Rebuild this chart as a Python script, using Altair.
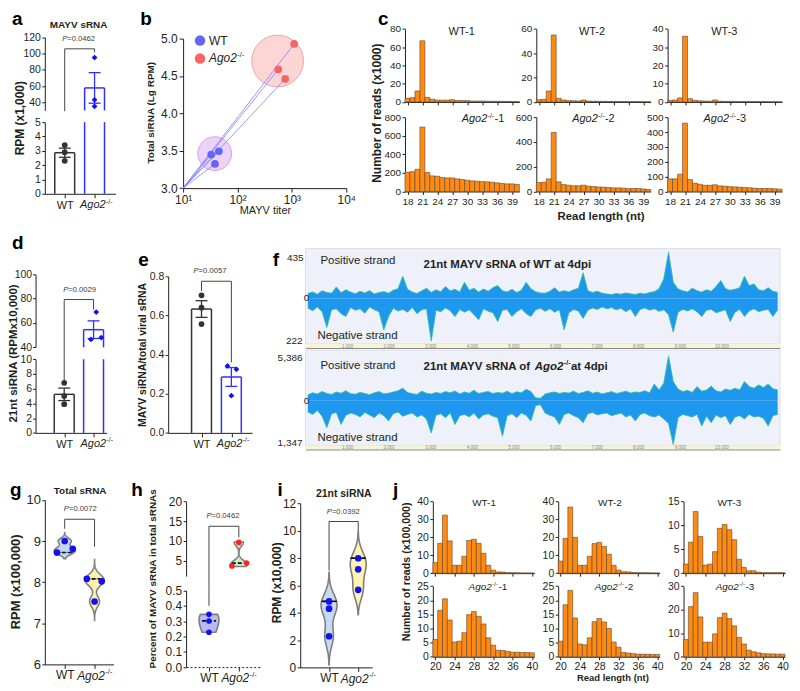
import altair as alt
import pandas as pd

# ------------------------------------------------------------------ data
GENO = ["WT", "Ago2-/-"]

# a  MAYV sRNA (RPM x1,000)
A_WT = [3.4, 2.9, 2.3]
A_KO = [95.0, 43.0, 35.0]
A_WT_DX = [0.0, 0.0, 0.0]
A_KO_DX = [0.0, 0.0, 0.0]

# b  titer vs total siRNA
B_WT_TITER = [32.9, 45.5, 38.5]
B_WT_LG = [3.448, 3.493, 3.324]
B_KO_TITER = [561.0, 753.0, 1101.0]
B_KO_LG = [4.587, 4.461, 4.928]
B_ORIGIN = [10.0, 3.0]
B_RING_TITER = [38.1, 546.0]
B_RING_LG = [3.461, 4.70]

# c  read length distributions (x1000)
C_LEN = list(range(18, 41))
C_WT1 = [4, 4.7, 12, 67, 5, 3, 2, 2, 2, 2.5, 1.5, 1.5, 1.5, 1, 1, 1, 0.8, 0.8, 0.7, 0.7, 0.6, 0.5, 0.4]
C_WT2 = [1.8, 2.2, 9, 55, 3, 1.6, 1.1, 1, 0.8, 1.6, 0.7, 0.6, 0.5, 0.5, 0.4, 0.4, 0.4, 0.3, 0.3, 0.3, 0.3, 0.2, 0.2]
C_WT3 = [0.9, 1.1, 2.2, 36, 1.8, 0.9, 0.6, 0.5, 0.4, 1.1, 0.4, 0.3, 0.3, 0.3, 0.2, 0.2, 0.2, 0.2, 0.2, 0.2, 0.1, 0.1, 0.1]
C_KO1 = [207, 214, 239, 693, 204, 168, 164, 150, 146, 146, 136, 129, 121, 114, 111, 107, 104, 100, 93, 86, 82, 82, 75]
C_KO2 = [72, 75, 102, 477, 78, 56, 51, 46, 46, 51, 43, 40, 37, 35, 32, 29, 29, 27, 24, 24, 24, 21, 16]
C_KO3 = [85, 85, 116, 460, 80, 56, 49, 42, 42, 45, 38, 36, 33, 31, 29, 27, 25, 22, 20, 20, 20, 18, 16]

# d  21nt siRNA (RPM x10,000)
D_WT = [6.8, 5.0, 3.9]
D_KO = [69.0, 46.5, 48.0]
D_WT_DX = [0.0, 0.0, 0.0]
D_KO_DX = [0.09, -0.09, 0.26]

# e  MAYV siRNA / total viral sRNA
E_WT = [0.703, 0.64, 0.556]
E_KO = [0.342, 0.325, 0.19]
E_WT_DX = [0.0, 0.0, 0.0]
E_KO_DX = [-0.13, 0.17, 0.0]

# f  coverage of 21nt reads along the MAYV genome (100 bins)
F_GENOME = 11411
F_NBIN = 100
F_WT_POS = [45, 60, 38, 70, 55, 48, 107, 52, 80, 58,
            42, 65, 50, 72, 40, 55, 62, 48, 75, 90,
            208, 85, 60, 45, 70, 95, 55, 80, 62, 110,
            70, 85, 60, 150, 75, 95, 58, 88, 66, 100,
            120, 70, 60, 85, 55, 75, 150, 90, 62, 50,
            48, 65, 100, 58, 72, 60, 80, 95, 241, 70,
            55, 65, 48, 40, 35, 45, 38, 50, 42, 36,
            48, 40, 55, 62, 90, 184, 435, 150, 88, 70,
            60, 95, 72, 58, 80, 65, 110, 167, 90, 75,
            85, 100, 208, 120, 135, 80, 70, 100, 65, 55]
F_WT_NEG = [50, 65, 45, 70, 152, 60, 55, 80, 95, 48,
            62, 55, 78, 45, 60, 70, 164, 95, 52, 66,
            58, 72, 48, 80, 60, 55, 222, 62, 70, 50,
            65, 95, 58, 72, 60, 85, 112, 55, 68, 75,
            121, 62, 58, 95, 70, 55, 80, 95, 60, 52,
            68, 55, 72, 60, 164, 75, 58, 66, 105, 62,
            50, 58, 45, 55, 48, 60, 52, 70, 55, 95,
            58, 50, 62, 55, 68, 60, 85, 176, 72, 58,
            66, 55, 70, 95, 62, 58, 75, 68, 60, 121,
            72, 58, 95, 66, 55, 70, 62, 58, 95, 60]
F_KO_POS = [700, 950, 820, 1100, 880, 760, 1050, 900, 1200, 850,
            780, 1000, 880, 720, 950, 1100, 830, 900, 1050, 1200,
            1500, 980, 850, 760, 1150, 900, 800, 1000, 870, 1100,
            950, 1180, 820, 1050, 900, 1250, 880, 1000, 1120, 860,
            1000, 900, 1150, 850, 1080, 950, 1380, 1100, 350, 300,
            800, 950, 1050, 880, 1000, 920, 1150, 860, 1000, 1200,
            900, 1050, 820, 950, 1100, 880, 1000, 1150, 930, 1050,
            1000, 1200, 950, 2000, 1300, 2100, 5386, 2300, 1400, 1100,
            1250, 1000, 1700, 1150, 1300, 1760, 1200, 1050, 1400, 1250,
            1500, 1300, 2300, 1700, 1500, 1900, 1600, 2000, 1450, 1300]
F_KO_NEG = [350, 420, 300, 480, 830, 400, 360, 730, 450, 380,
            420, 500, 360, 440, 520, 380, 460, 620, 400, 350,
            480, 420, 380, 500, 440, 560, 990, 450, 400, 520,
            380, 730, 460, 420, 500, 380, 560, 440, 400, 480,
            520, 1090, 460, 400, 520, 380, 450, 620, 150, 120,
            380, 450, 500, 730, 420, 380, 460, 520, 680, 400,
            360, 440, 400, 380, 460, 420, 380, 500, 440, 620,
            420, 380, 460, 500, 440, 560, 700, 1347, 520, 420,
            460, 500, 420, 780, 480, 680, 440, 520, 460, 730,
            500, 460, 560, 420, 500, 480, 540, 780, 460, 420]

# g  total sRNA (RPM x100,000)
G_WT = [8.72, 9.0, 8.81]
G_KO = [8.08, 8.02, 7.53]
G_WT_DX = [-0.26, 0.0, 0.27]
G_KO_DX = [-0.26, 0.24, 0.0]

# h  percent of MAYV sRNA in total sRNAs
H_WT = [0.344, 0.301, 0.227]
H_KO = [3.58, 4.33, 9.58]
H_WT_DX = [0.0, 0.0, 0.0]
H_KO_DX = [-0.23, 0.26, 0.0]

# i  21nt siRNA (RPM x10,000)
I_WT = [4.83, 4.3, 2.28]
I_KO = [7.99, 7.18, 5.68]
I_DX = [0.0, 0.0, 0.0]

# j  read length distributions (x100,000)
J_LEN = list(range(20, 41))
J_WT1 = [5.9, 16.7, 32.4, 18, 4.4, 4.4, 9.4, 18.3, 18.9, 16.7, 11.1, 4.4, 1.7, 0.7, 0.6, 0.3, 0.2, 0.2, 0.1, 0.1, 0.1]
J_WT2 = [6.7, 19.4, 36.9, 20, 4.4, 4.4, 9.4, 16.5, 17.2, 14.9, 10.6, 4.4, 1.7, 0.8, 0.7, 0.4, 0.3, 0.2, 0.2, 0.1, 0.1]
J_WT3 = [1.9, 6.5, 12.9, 7.7, 1.7, 1.9, 4.5, 9.4, 10.2, 9.1, 7.0, 2.9, 1.2, 0.5, 0.5, 0.2, 0.1, 0.1, 0.1, 0.1, 0.1]
J_KO1 = [6.1, 16.4, 20.5, 13, 5.2, 5.5, 8.5, 14.9, 16, 14.3, 11.6, 6.7, 4.1, 2.3, 2.2, 1.9, 1.6, 1.6, 1.5, 1.5, 1.4]
J_KO2 = [5.5, 18.4, 23.5, 13.7, 4.5, 4.2, 6.7, 12.4, 13.5, 12.3, 10, 5.2, 3.4, 1.5, 1.3, 1.1, 0.9, 0.9, 0.9, 0.8, 0.8]
J_KO3 = [7.3, 21.3, 27.2, 16.9, 6.2, 6.2, 9.7, 16.6, 18.5, 16.2, 13.1, 8.2, 5.4, 2.8, 2.1, 1.7, 1.3, 1.2, 1.2, 1.1, 1.1]

P_VAL = {"a": "0.0462", "d": "0.0029", "e": "0.0057", "g": "0.0072", "h": "0.0462", "i": "0.0392"}

# ------------------------------------------------------------------ style / helpers
OFF = 8
W, H = 784, 675
FONT = "Liberation Sans"
INK = "#231f20"
WT_C = "#333333"
KO_C = "#3030ff"
PT_BLUE = "#1212f0"
PT_RED = "#ff2222"
ORANGE = "#ff8a12"
EDGE = "#5b4632"
ONE = pd.DataFrame({"k": [0]})


def S(d0, d1, r0, r1, log=False):
    kw = dict(domain=[d0, d1], range=[r0 - OFF, r1 - OFF], nice=False)
    if log:
        kw["type"] = "log"
    else:
        kw["zero"] = False
    return alt.Scale(**kw)


def ax_base(size):
    return dict(title=None, grid=False, labelFontSize=size, labelFont=FONT, labelColor=INK,
                domainColor=INK, tickColor=INK, domainWidth=1, tickWidth=1,
                labelFlush=False, labelOverlap=False, domain=True, ticks=True)


def Yax(xref, values, size=10.5, fmt=None, tick=3, pad=1.5, **kw):
    d = ax_base(size)
    d.update(orient="left", offset=-(xref - OFF), values=values, tickSize=tick, labelPadding=pad)
    if fmt:
        d["format"] = fmt
    d.update(kw)
    return alt.Axis(**d)


def Xax(yref, values, size=11, tick=4, pad=2, **kw):
    d = ax_base(size)
    d.update(orient="bottom", offset=(yref - OFF) - H, values=values, tickSize=tick, labelPadding=pad)
    d.update(kw)
    return alt.Axis(**d)


def geno_axis(yref, size, **kw):
    # the WT label comes from the axis; the Ago2-/- label (with superscript) is drawn as text
    return Xax(yref, [1, 2], size=size, labelExpr="datum.value == 1 ? 'WT' : ''", **kw)


def T(x, y, s, size=11, bold=False, italic=False, align="center", baseline="middle", angle=0, color=INK):
    mk = dict(text=s, fontSize=size, font=FONT, align=align, baseline=baseline, color=color)
    if bold:
        mk["fontWeight"] = "bold"
    if italic:
        mk["fontStyle"] = "italic"
    if angle:
        mk["angle"] = angle
    return alt.Chart(ONE).mark_text(**mk).encode(x=alt.value(x - OFF), y=alt.value(y - OFF))


def ago2_text(x, y, size, bold=False, align="left", suffix="", suffix_w=0.0):
    w_main = (2.5 if bold else 2.335) * size
    ss = size * 0.62
    w_sup = 0.944 * ss
    total = w_main + w_sup + suffix_w * size
    x0 = x - total / 2 if align == "center" else (x - total if align == "right" else x)
    out = [T(x0, y, "Ago2", size, bold, True, align="left"),
           T(x0 + w_main + 0.4, y - size * 0.33, "-/-", ss, bold, False, align="left")]
    if suffix:
        out.append(T(x0 + w_main + w_sup + 0.8, y, suffix, size, bold, False, align="left"))
    return out


def ptext(cx, y, val, size=7.7, color="#3a3a3a"):
    w = (0.667 + 0.584 + 0.556 * (len(val) - 1) + 0.278) * size
    x0 = cx - w / 2
    return [T(x0, y, "P", size, italic=True, align="left", color=color),
            T(x0 + 0.667 * size, y, "=" + val, size, align="left", color=color)]


def frame(xs, ys, xd, yd, xa, ya):
    df = pd.DataFrame({"fx": xd, "fy": yd})
    return alt.Chart(df).mark_point(opacity=0).encode(
        x=alt.X("fx:Q", scale=xs, axis=xa), y=alt.Y("fy:Q", scale=ys, axis=ya))


def geno_df(wt, ko, wdx, kdx):
    return pd.DataFrame({"g": [1] * len(wt) + [2] * len(ko),
                         "v": list(wt) + list(ko), "dx": list(wdx) + list(kdx)})


def xq(x0, x1, c1, c2):
    u = c2 - c1
    d = [1 - (c1 - x0) / u, 2 + (x1 - c2) / u]
    return S(d[0], d[1], x0, x1), d, u


def bracket(segs, xs, ys, color="#444444"):
    df = pd.DataFrame(segs, columns=["x1", "y1", "x2", "y2"])
    return alt.Chart(df).mark_rule(color=color, strokeWidth=1).encode(
        x=alt.X("x1:Q", scale=xs, axis=None), x2="x2:Q",
        y=alt.Y("y1:Q", scale=ys, axis=None), y2="y2:Q")


def bar_layers(df, xs, ys, lo, hi, u):
    hw, cw = 10.0 / u, 6.0 / u
    out = []
    spec = {1: (WT_C, "circle", 34, WT_C), 2: (KO_C, "diamond", 34, PT_BLUE)}
    for g in (1, 2):
        col, shape, size, pcol = spec[g]
        agg = (alt.Chart(df).transform_filter(f"datum.g == {g}")
               .transform_aggregate(m="mean(v)", se="stderr(v)", groupby=["g"])
               .transform_calculate(xl=f"datum.g - {hw}", xr=f"datum.g + {hw}",
                                    top=f"min(datum.m, {hi})", bot=f"{lo}",
                                    elo="datum.m - datum.se", ehi="datum.m + datum.se",
                                    cl=f"datum.g - {cw}", cr=f"datum.g + {cw}"))
        edge = agg.transform_filter(f"datum.m > {lo}")
        for side in ("xl", "xr"):
            out.append(edge.mark_rule(color=col, strokeWidth=1.5).encode(
                x=alt.X(f"{side}:Q", scale=xs, axis=None),
                y=alt.Y("bot:Q", scale=ys, axis=None), y2="top:Q"))
        inside = agg.transform_filter(f"datum.m >= {lo} && datum.m <= {hi}")
        out.append(inside.mark_rule(color=col, strokeWidth=1.5).encode(
            x=alt.X("xl:Q", scale=xs, axis=None), x2="xr:Q", y=alt.Y("m:Q", scale=ys, axis=None)))
        out.append(inside.mark_rule(color=col, strokeWidth=1.3).encode(
            x=alt.X("g:Q", scale=xs, axis=None), y=alt.Y("elo:Q", scale=ys, axis=None), y2="ehi:Q"))
        for e in ("elo", "ehi"):
            out.append(inside.mark_rule(color=col, strokeWidth=1.3).encode(
                x=alt.X("cl:Q", scale=xs, axis=None), x2="cr:Q", y=alt.Y(f"{e}:Q", scale=ys, axis=None)))
        out.append(alt.Chart(df)
                   .transform_filter(f"datum.g == {g} && datum.v >= {lo} && datum.v <= {hi}")
                   .transform_calculate(px="datum.g + datum.dx")
                   .mark_point(filled=True, shape=shape, size=size, color=pcol, opacity=1)
                   .encode(x=alt.X("px:Q", scale=xs, axis=None), y=alt.Y("v:Q", scale=ys, axis=None)))
    return out


def violin(df, g, bw, extent, halfw, fill, xs, ys):
    return (alt.Chart(df).transform_filter(f"datum.g == {g}")
            .transform_density("v", as_=["v", "d"], bandwidth=bw, extent=extent, steps=120)
            .transform_joinaggregate(dm="max(d)")
            .transform_calculate(l=f"{g} - {halfw} * datum.d / datum.dm",
                                 r=f"{g} + {halfw} * datum.d / datum.dm")
            .mark_area(orient="horizontal", fill=fill, stroke="#7f7f7f", strokeWidth=1.6,
                       opacity=1, fillOpacity=1)
            .encode(y=alt.Y("v:Q", scale=ys, axis=None), x=alt.X("l:Q", scale=xs, axis=None), x2="r:Q"))


def stat(df, g, op, halfw, xs, ys, dash=None, width=1.5, color="#111111"):
    mk = dict(color=color, strokeWidth=width)
    if dash:
        mk["strokeDash"] = dash
    return (alt.Chart(df).transform_filter(f"datum.g == {g}")
            .transform_aggregate(s=f"{op}(v)")
            .transform_calculate(l=f"{g} - {halfw}", r=f"{g} + {halfw}")
            .mark_rule(**mk)
            .encode(x=alt.X("l:Q", scale=xs, axis=None), x2="r:Q", y=alt.Y("s:Q", scale=ys, axis=None)))


def vpoints(df, g, xs, ys, color, size=45, shape="circle"):
    return (alt.Chart(df).transform_filter(f"datum.g == {g}")
            .transform_calculate(px="datum.g + datum.dx")
            .mark_point(filled=True, shape=shape, size=size, color=color, opacity=1)
            .encode(x=alt.X("px:Q", scale=xs, axis=None), y=alt.Y("v:Q", scale=ys, axis=None)))


def hist(lens, vals, x0, x1, ytop, ybot, ymax, yticks, xticks, show_lab, ysize=10, xsize=10):
    xd = [lens[0] - 0.5, lens[-1] + 0.5]
    xs = S(xd[0], xd[1], x0, x1)
    ys = S(0, ymax, ybot, ytop)
    df = pd.DataFrame({"len": lens, "v": vals})
    xa = Xax(ybot, xticks, size=xsize, tick=3, labels=show_lab)
    ya = Yax(x0, yticks, size=ysize, tick=3)
    bars = (alt.Chart(df).transform_calculate(l="datum.len - 0.5", r="datum.len + 0.5")
            .mark_rect(fill=ORANGE, stroke=EDGE, strokeWidth=0.6)
            .encode(x=alt.X("l:Q", scale=xs, axis=None), x2="r:Q",
                    y=alt.Y("v:Q", scale=ys, axis=None), y2=alt.datum(0)))
    return [bars, frame(xs, ys, xd, [0, ymax], xa, ya)]


L = []

# ------------------------------------------------------------------ a
a_df = geno_df(A_WT, A_KO, A_WT_DX, A_KO_DX)
a_xs, a_xd, a_u = xq(41, 112, 61, 91)
a_up = S(30, 120, 109.2, 35.7)
a_lo = S(0, 5, 193, 121)
L += [frame(a_xs, a_up, a_xd, [30, 120], None, Yax(41, [40, 60, 80, 100, 120])),
      *bar_layers(a_df, a_xs, a_up, 30, 120, a_u),
      bracket([(1, 29, 1, 105.8), (1, 105.8, 2, 105.8), (2, 105.8, 2, 101.5)], a_xs, a_up)]
L += [frame(a_xs, a_lo, a_xd, [0, 5], geno_axis(193, 11), Yax(41, [0, 1, 2, 3, 4, 5])),
      *bar_layers(a_df, a_xs, a_lo, 0, 5, a_u)]
L += ago2_text(92.5, 204.5, 11, align="center")

# ------------------------------------------------------------------ b
b_xs = S(10, 10000, 180, 344, log=True)
b_ys = S(3, 5, 187.3, 37)
b_lab = ("datum.value == 10 ? '10\u00b9' : datum.value == 100 ? '10\u00b2' : "
         "datum.value == 1000 ? '10\u00b3' : '10\u2074'")
ln_rows = []
for i, (t, r) in enumerate(zip(B_WT_TITER + B_KO_TITER, B_WT_LG + B_KO_LG)):
    ln_rows.append({"id": i, "t": B_ORIGIN[0], "r": B_ORIGIN[1]})
    ln_rows.append({"id": i, "t": t, "r": r})
ring = pd.DataFrame({"t": B_RING_TITER, "r": B_RING_LG})


def ring_layer(idx, size, fill, stroke):
    return (alt.Chart(ring.iloc[[idx]]).mark_point(shape="circle", filled=True, size=size, fill=fill,
                                                  stroke=stroke, strokeWidth=1, opacity=1, fillOpacity=1)
            .encode(x=alt.X("t:Q", scale=b_xs, axis=None), y=alt.Y("r:Q", scale=b_ys, axis=None)))


L += [
    frame(b_xs, b_ys, [10, 10000], [3, 5],
          Xax(187.3, [10, 100, 1000, 10000], size=12, labelExpr=b_lab),
          Yax(180, [3, 3.5, 4, 4.5, 5], size=12, fmt=".1f", tick=4, pad=2)),
    ring_layer(0, 1156, "#ecd2f6", "#d9a2ea"),
    ring_layer(1, 2704, "#fcd5d5", "#f3a3a3"),
    alt.Chart(pd.DataFrame(ln_rows)).mark_line(color="#8080ff", strokeWidth=0.8).encode(
        x=alt.X("t:Q", scale=b_xs, axis=None), y=alt.Y("r:Q", scale=b_ys, axis=None), detail="id:N"),
    alt.Chart(pd.DataFrame({"t": B_WT_TITER, "r": B_WT_LG})).mark_circle(size=60, color="#6464f6", opacity=1)
    .encode(x=alt.X("t:Q", scale=b_xs, axis=None), y=alt.Y("r:Q", scale=b_ys, axis=None)),
    alt.Chart(pd.DataFrame({"t": B_KO_TITER, "r": B_KO_LG})).mark_circle(size=60, color="#f66464", opacity=1)
    .encode(x=alt.X("t:Q", scale=b_xs, axis=None), y=alt.Y("r:Q", scale=b_ys, axis=None)),
]
L.append(alt.Chart(ONE).mark_circle(size=110, color="#6464f6", opacity=1).encode(
    x=alt.value(197 - OFF), y=alt.value(39 - OFF)))
L.append(alt.Chart(ONE).mark_circle(size=110, color="#f66464", opacity=1).encode(
    x=alt.value(197 - OFF), y=alt.value(57 - OFF)))
L.append(T(206, 39, "WT", 12, align="left"))
L += ago2_text(206, 57, 12)

# ------------------------------------------------------------------ c
c_cols = [(403, 518), (535, 650), (667, 782)]
c_top = [(C_WT1, 80, [0, 20, 40, 60, 80]), (C_WT2, 60, [0, 20, 40, 60]), (C_WT3, 40, [0, 10, 20, 30, 40])]
c_bot = [(C_KO1, 800, [0, 200, 400, 600, 800]), (C_KO2, 600, [0, 200, 400, 600]),
         (C_KO3, 500, [0, 100, 200, 300, 400, 500])]
c_xt = list(range(18, 40, 3))
for (x0, x1), (vals, ym, yt) in zip(c_cols, c_top):
    L += hist(C_LEN, vals, x0, x1, 27.3, 100.7, ym, yt, c_xt, False)
for (x0, x1), (vals, ym, yt) in zip(c_cols, c_bot):
    L += hist(C_LEN, vals, x0, x1, 116, 190.7, ym, yt, c_xt, True)
for cx, s in zip([460, 591, 724], ["WT-1", "WT-2", "WT-3"]):
    L.append(T(cx, 30, s, 11))
for cx, s in zip([481, 592, 724], ["-1", "-2", "-3"]):
    L += ago2_text(cx, 118, 11, align="center", suffix=s, suffix_w=0.889)

# ------------------------------------------------------------------ d
d_df = geno_df(D_WT, D_KO, D_WT_DX, D_KO_DX)
d_xs, d_xd, d_u = xq(31.7, 103, 60.5, 90)
d_up = S(40, 100, 347.3, 274)
d_lo = S(0, 10, 433.3, 359.3)
L += [frame(d_xs, d_up, d_xd, [40, 100], None, Yax(31.7, [40, 60, 80, 100], pad=1)),
      *bar_layers(d_df, d_xs, d_up, 40, 100, d_u),
      bracket([(1, 30.2, 1, 79.3), (1, 79.3, 2, 79.3), (2, 79.3, 2, 71)], d_xs, d_up)]
L += [frame(d_xs, d_lo, d_xd, [0, 10], geno_axis(433.3, 11), Yax(31.7, [0, 2, 4, 6, 8, 10], pad=1)),
      *bar_layers(d_df, d_xs, d_lo, 0, 10, d_u),
      bracket([(1, 10, 1, 7.1)], d_xs, d_lo)]
L += ago2_text(93, 444.5, 11, align="center")

# ------------------------------------------------------------------ e
e_df = geno_df(E_WT, E_KO, E_WT_DX, E_KO_DX)
e_xs, e_xd, e_u = xq(165, 249.3, 198.5, 228.5)
e_ys = S(0, 0.8, 433.3, 276)
L += [frame(e_xs, e_ys, e_xd, [0, 0.8], geno_axis(433.3, 11),
            Yax(165, [0, 0.2, 0.4, 0.6, 0.8], fmt=".1f")),
      *bar_layers(e_df, e_xs, e_ys, 0, 0.8, e_u),
      bracket([(1, 0.725, 1, 0.775), (1, 0.775, 2, 0.775), (2, 0.775, 2, 0.36)], e_xs, e_ys)]
L += ago2_text(230, 444.5, 11, align="center")

# ------------------------------------------------------------------ f
f_x = [(i + 0.5) * F_GENOME / F_NBIN for i in range(F_NBIN)]
f_xs = S(0, F_GENOME, 303, 780)


def track(pos_vals, neg_vals, top, zero_y, pmax, ptop, nmax, nbot):
    ps = S(0, pmax, zero_y, ptop)
    ns = S(0, nmax, zero_y, nbot)
    xa = Xax(top + 100, list(range(1000, 11000, 1000)), size=4.5, tick=0, pad=-5, format=",d",
             labelColor="#8a8a8a", domainColor="#8a8a8a", zindex=1)
    bg = alt.Chart(ONE).mark_rect(fill="#eef0fa", stroke="#d6d8e6", strokeWidth=0.8).encode(
        x=alt.value(303 - OFF), x2=alt.value(780 - OFF), y=alt.value(top - OFF), y2=alt.value(top + 96 - OFF))
    strip = alt.Chart(ONE).mark_rect(fill="#f6f3d6").encode(
        x=alt.value(303 - OFF), x2=alt.value(780 - OFF), y=alt.value(top + 96 - OFF), y2=alt.value(top + 100 - OFF))
    pa = (alt.Chart(pd.DataFrame({"p": f_x, "v": pos_vals}))
          .mark_area(color="#1e98ee", opacity=1, line={"color": "#2dbf8c", "strokeWidth": 0.8})
          .encode(x=alt.X("p:Q", scale=f_xs, axis=None), y=alt.Y("v:Q", scale=ps, axis=None)))
    na = (alt.Chart(pd.DataFrame({"p": f_x, "v": neg_vals}))
          .mark_area(color="#1e98ee", opacity=1, line={"color": "#2dbf8c", "strokeWidth": 0.8})
          .encode(x=alt.X("p:Q", scale=f_xs, axis=None), y=alt.Y("v:Q", scale=ns, axis=None)))
    return [bg, strip, pa, na, frame(f_xs, ps, [0, F_GENOME], [0, pmax], xa, None)]


L += track(F_WT_POS, F_WT_NEG, 248, 298, 435, 251.7, 222, 341)
L += track(F_KO_POS, F_KO_NEG, 350, 401, 5386, 356, 1347, 445)
L += [T(301, 258, "435", 10, align="right"), T(304, 298, "0", 10),
      T(300, 341, "222", 10, align="right"),
      T(300, 358, "5,386", 10, align="right"), T(304, 401, "0", 10),
      T(300, 443, "1,347", 10, align="right"),
      T(318, 261, "Positive strand", 11.5, align="left"),
      T(421.7, 265, "21nt MAYV sRNA of WT at 4dpi", 11.5, bold=True, align="left"),
      T(315, 335.5, "Negative strand", 11.5, align="left"),
      T(318, 366, "Positive strand", 11.5, align="left"),
      T(421.7, 366.7, "21nt MAYV sRNA of", 11.5, bold=True, align="left"),
      T(315, 438, "Negative strand", 11.5, align="left")]
L += ago2_text(421.7 + 9.723 * 11.5, 366.7, 11.5, bold=True, suffix=" at 4dpi", suffix_w=3.5)

# ------------------------------------------------------------------ g
g_df = geno_df(G_WT, G_KO, G_WT_DX, G_KO_DX)
g_xs, g_xd, g_u = xq(41, 110, 61, 91)
g_ys = S(6, 10, 666, 500.7)
L += [
    frame(g_xs, g_ys, g_xd, [6, 10], geno_axis(666, 12, pad=1.5), Yax(41, [6, 7, 8, 9, 10], size=13)),
    violin(g_df, 1, 0.07, [8.57, 9.2], 10.5 / g_u, "#c2d7f4", g_xs, g_ys),
    violin(g_df, 2, 0.13, [7.07, 8.55], 9.7 / g_u, "#fdf2ad", g_xs, g_ys),
    stat(g_df, 1, "median", 9 / g_u, g_xs, g_ys, dash=[4, 2], width=1.6),
    stat(g_df, 1, "min", 8 / g_u, g_xs, g_ys, dash=[1, 2], width=0.8),
    stat(g_df, 2, "median", 9 / g_u, g_xs, g_ys, dash=[4, 2], width=1.6),
    stat(g_df, 2, "max", 8 / g_u, g_xs, g_ys, dash=[1, 2], width=0.8),
    vpoints(g_df, 1, g_xs, g_ys, PT_BLUE), vpoints(g_df, 2, g_xs, g_ys, PT_BLUE),
    bracket([(1, 9.3, 1, 9.53), (1, 9.53, 2, 9.53), (2, 9.53, 2, 8.86)], g_xs, g_ys)]
L += ago2_text(91, 677.5, 12, align="center")

# ------------------------------------------------------------------ h
h_df = geno_df(H_WT, H_KO, H_WT_DX, H_KO_DX)
h_xs, h_xd, h_u = xq(183, 257, 206, 236)
h_up = S(1, 20, 577.3, 502.3)
h_lo = S(0, 0.5, 668.7, 591.7)
L += [
    frame(h_xs, h_up, h_xd, [1, 20], None, Yax(183, [5, 10, 15, 20], size=12)),
    violin(h_df, 2, 0.9, [3.45, 9.7], 8.5 / h_u, "#c8f0c8", h_xs, h_up),
    stat(h_df, 2, "median", 7 / h_u, h_xs, h_up, dash=[4, 2], width=1.8),
    vpoints(h_df, 2, h_xs, h_up, PT_RED, size=32),
    bracket([(1, -2.64, 1, 13.7), (1, 13.7, 2, 13.7), (2, 13.7, 2, 10.9)], h_xs, h_up)]
L += [
    frame(h_xs, h_lo, h_xd, [0, 0.5], geno_axis(668.7, 12, pad=1.5, domainDash=[2, 2]),
          Yax(183, [0, 0.1, 0.2, 0.3, 0.4, 0.5], fmt=".1f", size=12)),
    violin(h_df, 1, 0.05, [0.227, 0.344], 10 / h_u, "#b9b9f3", h_xs, h_lo),
    stat(h_df, 1, "median", 7 / h_u, h_xs, h_lo, dash=[4, 2], width=1.8),
    vpoints(h_df, 1, h_xs, h_lo, PT_BLUE, size=32),
    bracket([(1, 0.5, 1, 0.40)], h_xs, h_lo)]
L += ago2_text(236, 680.2, 12, align="center")

# ------------------------------------------------------------------ i
i_df = geno_df(I_WT, I_KO, I_DX, I_DX)
i_xs, i_xd, i_u = xq(297.7, 370, 326.7, 356)
i_ys = S(0, 12, 669, 504.3)
L += [
    frame(i_xs, i_ys, i_xd, [0, 12], geno_axis(669, 12, pad=1.5), Yax(297.7, [0, 2, 4, 6, 8, 10, 12], size=12)),
    violin(i_df, 1, 0.75, [0.17, 6.97], 8 / i_u, "#c6daf3", i_xs, i_ys),
    violin(i_df, 2, 0.7, [3.86, 9.88], 8 / i_u, "#fdf3b5", i_xs, i_ys),
    stat(i_df, 1, "max", 8 / i_u, i_xs, i_ys, width=1.2),
    stat(i_df, 1, "median", 6.7 / i_u, i_xs, i_ys, dash=[4, 2], width=1.6),
    stat(i_df, 1, "min", 5 / i_u, i_xs, i_ys, width=1.2),
    stat(i_df, 2, "max", 7.3 / i_u, i_xs, i_ys, width=1.2),
    stat(i_df, 2, "median", 7.8 / i_u, i_xs, i_ys, dash=[4, 2], width=1.6),
    stat(i_df, 2, "min", 6.7 / i_u, i_xs, i_ys, width=1.2),
    vpoints(i_df, 1, i_xs, i_ys, PT_BLUE), vpoints(i_df, 2, i_xs, i_ys, PT_BLUE),
    bracket([(1, 7.09, 1, 10.68), (1, 10.68, 2, 10.68), (2, 10.68, 2, 9.88)], i_xs, i_ys)]
L += ago2_text(356, 680.5, 12, align="center")

# ------------------------------------------------------------------ j
j_cols = [(431, 533), (557, 659), (683, 785)]
j_top = [(J_WT1, 40, [0, 10, 20, 30, 40]), (J_WT2, 40, [0, 10, 20, 30, 40]), (J_WT3, 15, [0, 5, 10, 15])]
j_bot = [(J_KO1, 25, [0, 5, 10, 15, 20, 25]), (J_KO2, 25, [0, 5, 10, 15, 20, 25]),
         (J_KO3, 30, [0, 10, 20, 30])]
j_xt = list(range(20, 41, 4))
for (x0, x1), (vals, ym, yt) in zip(j_cols, j_top):
    L += hist(J_LEN, vals, x0, x1, 502.3, 574.3, ym, yt, j_xt, False, ysize=10.5, xsize=10.5)
for (x0, x1), (vals, ym, yt) in zip(j_cols, j_bot):
    L += hist(J_LEN, vals, x0, x1, 587.3, 658.3, ym, yt, j_xt, True, ysize=10.5, xsize=10.5)
for cx, s in zip([482.5, 609, 729], ["WT-1", "WT-2", "WT-3"]):
    L.append(T(cx, 503.5, s, 10))
for cx, s in zip([486, 612.7, 734.3], ["-1", "-2", "-3"]):
    L += ago2_text(cx, 588.5, 10, align="center", suffix=s, suffix_w=0.889)

# ------------------------------------------------------------------ titles, letters, p-values
L += [
    T(75, 23, "MAYV sRNA", 10, bold=True),
    T(16, 117, "RPM (x1,000)", 12, bold=True, angle=270),
    T(148, 111.5, "Total siRNA (Lg RPM)", 10, bold=True, angle=270),
    T(262.7, 210.7, "MAYV  titer", 11),
    T(375, 112, "Number of reads (x1000)", 12, bold=True, angle=270),
    T(600, 216, "Read length (nt)", 11.5, bold=True),
    T(10.5, 353.5, "21nt siRNA (RPMx10,000)", 11.5, bold=True, angle=270),
    T(140, 355, "MAYV siRNA/total viral sRNA", 10.5, bold=True, angle=270),
    T(76.5, 492, "Total sRNA", 10, bold=True),
    T(12, 583, "RPM (x100,000)", 13, bold=True, angle=270),
    T(150, 580, "Percent of MAYV sRNA in total sRNAs", 10, bold=True, angle=270),
    T(341.5, 495, "21nt siRNA", 10.5, bold=True),
    T(274.5, 584, "RPM (x10,000)", 12, bold=True, angle=270),
    T(405, 573, "Number of reads (x100,000)", 10.7, bold=True, angle=270),
    T(612, 680, "Read length (nt)", 9.5, bold=True),
]
for s, x, y in [("a", 8, 23), ("b", 137, 23), ("c", 376, 23), ("d", 8, 248), ("e", 135, 266),
                ("f", 270, 266), ("g", 6, 497), ("h", 128, 497), ("i", 275, 497), ("j", 391, 497)]:
    L.append(T(x, y, s, 19, bold=True, align="left", baseline="alphabetic", color="#000000"))
L += ptext(75, 37.7, P_VAL["a"])
L += ptext(76, 290, P_VAL["d"])
L += ptext(207, 271, P_VAL["e"])
L += ptext(76.7, 510, P_VAL["g"])
L += ptext(220, 516.7, P_VAL["h"])
L += ptext(341, 513.3, P_VAL["i"])

chart = (alt.layer(*L)
         .resolve_scale(x="independent", y="independent")
         .resolve_axis(x="independent", y="independent")
         .properties(width=W, height=H, padding=0)
         .configure(font=FONT)
         .configure_view(stroke=None))

chart.save("out.html", embed_options={"renderer": "svg", "actions": False})
